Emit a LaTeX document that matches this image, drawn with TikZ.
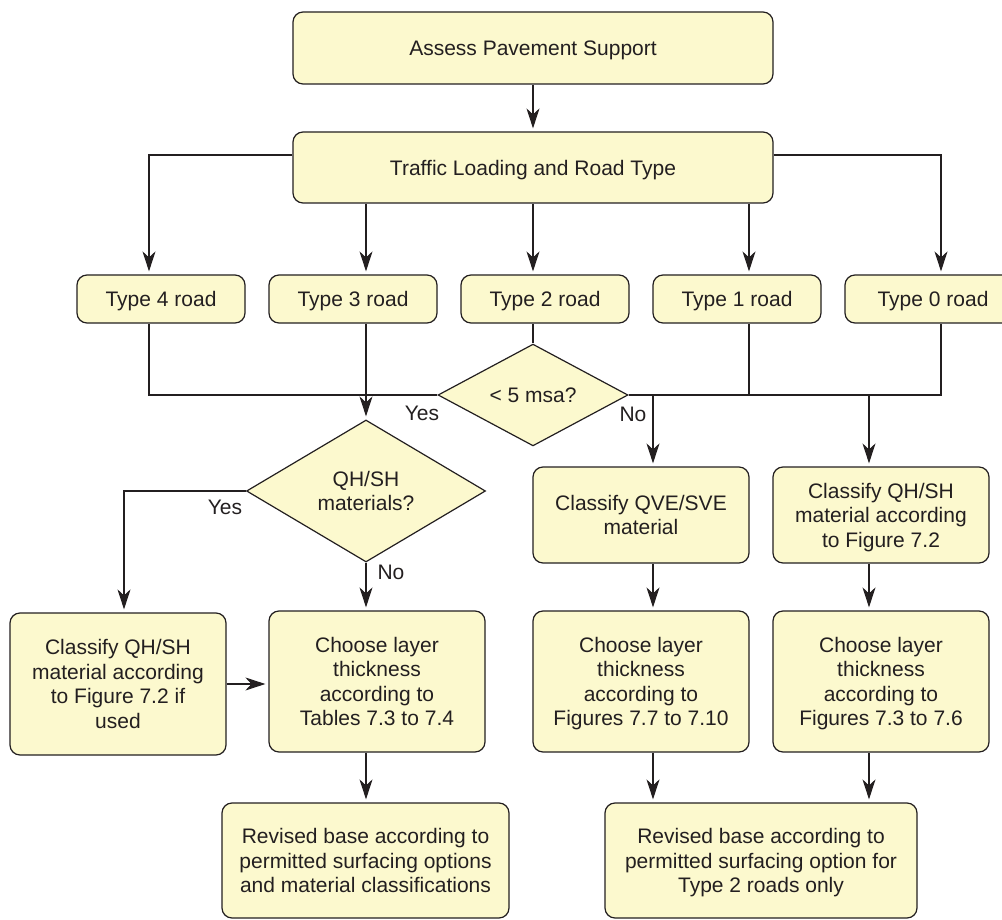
\documentclass[tikz,border=0pt]{standalone}
\usepackage{fontspec}
\setmainfont{Liberation Sans}
\usetikzlibrary{shapes.geometric,arrows.meta}
\definecolor{boxfill}{RGB}{252,249,206}
\definecolor{edge}{RGB}{35,31,32}
\begin{document}
\begin{tikzpicture}[x=1pt,y=-1pt,
  font=\fontsize{21}{24.5}\selectfont,
  box/.style={draw=edge,fill=boxfill,line width=1.2pt,rounded corners=10pt,align=center,inner sep=0pt,text=edge,text depth=-2.5pt},
  dec/.style={draw=edge,fill=boxfill,line width=1.2pt,shape=diamond,align=center,inner sep=0pt,text=edge},
  conn/.style={draw=edge,line width=1.1pt},
  arr/.style={conn,-{Stealth[length=20pt,width=13pt,inset=6pt]},shorten >=3pt},
  lbl/.style={inner sep=0pt,text=edge}]
\useasboundingbox (0,0) rectangle (1002,920);

% nodes
\node[box,minimum width=480pt,minimum height=72pt] (assess) at (533,48) {Assess Pavement Support};
\node[box,minimum width=480pt,minimum height=71pt] (traffic) at (533,167.5) {Traffic Loading and Road Type};

\node[box,minimum width=168pt,minimum height=48pt] (t4) at (161,299) {Type 4 road};
\node[box,minimum width=168pt,minimum height=48pt] (t3) at (353,299) {Type 3 road};
\node[box,minimum width=168pt,minimum height=48pt] (t2) at (545,299) {Type 2 road};
\node[box,minimum width=168pt,minimum height=48pt] (t1) at (737,299) {Type 1 road};
\node[box,minimum width=176pt,minimum height=48pt] (t0) at (933,299) {Type 0 road};

\node[dec,minimum width=190pt,minimum height=95pt] (msa) at (533,395) {< 5 msa?};
\node[dec,minimum width=239pt,minimum height=142pt] (qh) at (366,491) {QH/SH\\materials?};

\node[box,minimum width=216pt,minimum height=96pt] (qve) at (641,515) {Classify QVE/SVE\\material};
\node[box,minimum width=216pt,minimum height=96pt] (qhs) at (881,515) {Classify QH/SH\\material according\\to Figure 7.2};

\node[box,minimum width=216pt,minimum height=142pt] (cl) at (118,684) {Classify QH/SH\\material according\\to Figure 7.2 if\\used};
\node[box,minimum width=216pt,minimum height=141pt] (ch1) at (377,681.5) {Choose layer\\thickness\\according to\\Tables 7.3 to 7.4};
\node[box,minimum width=216pt,minimum height=141pt] (ch2) at (641,681.5) {Choose layer\\thickness\\according to\\Figures 7.7 to 7.10};
\node[box,minimum width=216pt,minimum height=141pt] (ch3) at (881,681.5) {Choose layer\\thickness\\according to\\Figures 7.3 to 7.6};

\node[box,minimum width=287pt,minimum height=115pt] (rev1) at (365.5,860.5) {Revised base according to\\permitted surfacing options\\and material classifications};
\node[box,minimum width=312pt,minimum height=115pt] (rev2) at (761,860.5) {Revised base according to\\permitted surfacing option for\\Type 2 roads only};

% labels
\node[lbl] (yes1) at (422,413) {Yes};
\node[lbl] (no1) at (633,414) {No};
\node[lbl] (yes2) at (225,507) {Yes};
\node[lbl] (no2) at (391,572) {No};

% helper coordinates
\coordinate (L) at (149,155);
\coordinate (R) at (941,155);
\coordinate (c3) at (366,0);
\coordinate (c2) at (533,0);
\coordinate (c1) at (749,0);
\coordinate (jR) at (941,395);
\coordinate (c5) at (653,395);
\coordinate (c6) at (869,395);
\coordinate (cY) at (124,491);

% connectors
\draw[arr] (assess) -- (traffic);
\draw[arr] (traffic.west |- L) -- (L) -- (t4.north -| L);
\draw[arr] (traffic.east |- R) -- (R) -- (t0.north -| R);
\draw[arr] (traffic.south -| c3) -- (t3.north -| c3);
\draw[arr] (traffic.south -| c2) -- (t2.north -| c2);
\draw[arr] (traffic.south -| c1) -- (t1.north -| c1);

\draw[conn] (t4.south -| L) |- (msa.west);
\draw[arr] (t3.south -| c3) -- (qh.north);
\draw[conn] (t2.south -| c2) -- (msa.north);
\draw[conn] (msa.east) -- (jR) -- (t0.south -| jR);
\draw[conn] (t1.south -| c1) -- (c1 |- msa.east);
\draw[arr] (c5) -- (qve.north -| c5);
\draw[arr] (c6) -- (qhs.north -| c6);

\draw[arr] (qh.west) -- (cY) -- (cl.north -| cY);
\draw[arr] (qh.south) -- (ch1.north -| qh.south);
\draw[arr] (cl.east) -- (ch1.west |- cl.east);
\draw[arr] (ch1.south -| qh.south) -- (rev1.north -| qh.south);

\draw[arr] (qve.south -| c5) -- (ch2.north -| c5);
\draw[arr] (qhs.south -| c6) -- (ch3.north -| c6);
\draw[arr] (ch2.south -| c5) -- (rev2.north -| c5);
\draw[arr] (ch3.south -| c6) -- (rev2.north -| c6);
\end{tikzpicture}
\end{document}
